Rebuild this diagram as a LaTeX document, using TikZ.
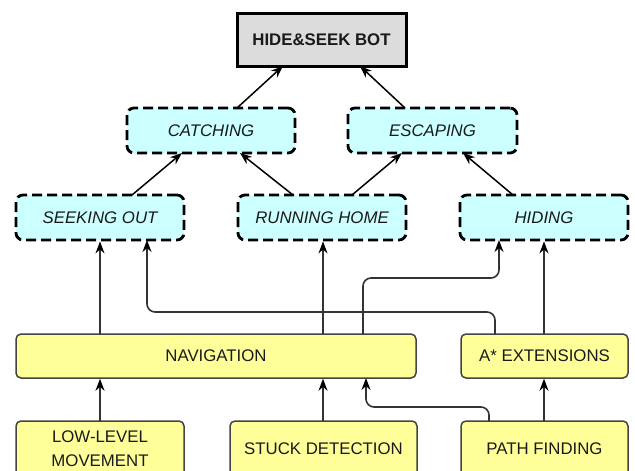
\documentclass[tikz,border=0pt]{standalone}
\usepackage{fontspec}
\setmainfont{Liberation Sans}
\usetikzlibrary{arrows.meta}
\definecolor{ylw}{HTML}{FFFF99}
\definecolor{cyn}{HTML}{CCFFFF}
\definecolor{gry}{HTML}{DCDCDC}
\definecolor{edge}{HTML}{444444}
\definecolor{linec}{HTML}{333333}
\definecolor{txt}{HTML}{1A1A1A}
\tikzset{
  base/.style={inner sep=0pt, align=center, text=txt, font=\fontsize{16.8}{19}\selectfont},
  topbox/.style={base, draw=black, line width=3pt, fill=gry, font=\fontsize{16.8}{19}\selectfont\bfseries},
  goalbox/.style={base, draw=black, line width=2.8pt, dash pattern=on 10pt off 5pt, fill=cyn, rounded corners=7pt, minimum height=45pt, font=\fontsize{16.8}{19}\selectfont\itshape},
  modbox/.style={base, draw=edge, line width=1.5pt, fill=ylw, rounded corners=5pt},
  conn/.style={draw=linec, line width=1.6pt, -{Stealth[length=12pt,width=9pt,color=black]}, rounded corners=8pt},
  diag/.style={draw=black, line width=1.5pt, -{Stealth[length=12pt,width=9pt]}}
}
\begin{document}
\begin{tikzpicture}[x=1pt,y=-1pt]
\clip (0,0) rectangle (635,471);
\fill[white] (0,0) rectangle (635,471);
% nodes
\node[topbox, minimum width=169pt, minimum height=53pt] (bot) at (321.5,39.5) {HIDE\&SEEK BOT};
\node[goalbox, minimum width=168pt] (catch) at (211,130.5) {CATCHING};
\node[goalbox, minimum width=169pt] (escape) at (432.5,130.5) {ESCAPING};
\node[goalbox, minimum width=168pt] (seek) at (100,217.5) {SEEKING OUT};
\node[goalbox, minimum width=168pt] (run) at (322,217.5) {RUNNING HOME};
\node[goalbox, minimum width=168pt] (hide) at (544,217.5) {HIDING};
\node[modbox, minimum width=400pt, minimum height=44pt] (nav) at (216,356) {NAVIGATION};
\node[modbox, minimum width=167pt, minimum height=44pt] (astar) at (544.5,356) {A* EXTENSIONS};
\node[modbox, minimum width=168pt, minimum height=56pt, font=\fontsize{16.8}{24}\selectfont] (low) at (100,449) {LOW-LEVEL\\MOVEMENT};
\node[modbox, minimum width=187pt, minimum height=56pt] (stuck) at (323.5,449) {STUCK DETECTION};
\node[modbox, minimum width=167pt, minimum height=56pt] (path) at (544.5,449) {PATH FINDING};
% bottom layer connectors
\coordinate (lowtop) at (100,421);
\draw[conn] (lowtop) -- (lowtop |- nav.south);
\coordinate (stucktop) at (323,421);
\draw[conn] (stucktop) -- (stucktop |- nav.south);
\coordinate (pathtopA) at (489,421);
\coordinate (navinB) at (366,378);
\draw[conn] (pathtopA) -- (489,407) -- (366,407) -- (navinB);
\coordinate (pathtopB) at (544,421);
\draw[conn] (pathtopB) -- (pathtopB |- astar.south);
% middle connectors
\coordinate (navA) at (100,334);
\draw[conn] (navA) -- (navA |- seek.south);
\coordinate (navB) at (323,334);
\draw[conn] (navB) -- (navB |- run.south);
\coordinate (navC) at (363,334);
\coordinate (hideinA) at (499,240);
\draw[conn] (navC) -- (363,278) -- (499,278) -- (hideinA);
\coordinate (astarA) at (495,334);
\coordinate (seekinB) at (147,240);
\draw[conn] (astarA) -- (495,312) -- (147,312) -- (seekinB);
\coordinate (astarB) at (544,334);
\draw[conn] (astarB) -- (astarB |- hide.south);
% diagonal connectors
\draw[diag] (132,195) -- (182,153);
\draw[diag] (293,195) -- (240,153);
\draw[diag] (352,195) -- (402,153);
\draw[diag] (513,195) -- (463,153);
\draw[diag] (237,108) -- (283,66);
\draw[diag] (405,108) -- (360,66);
\end{tikzpicture}
\end{document}
